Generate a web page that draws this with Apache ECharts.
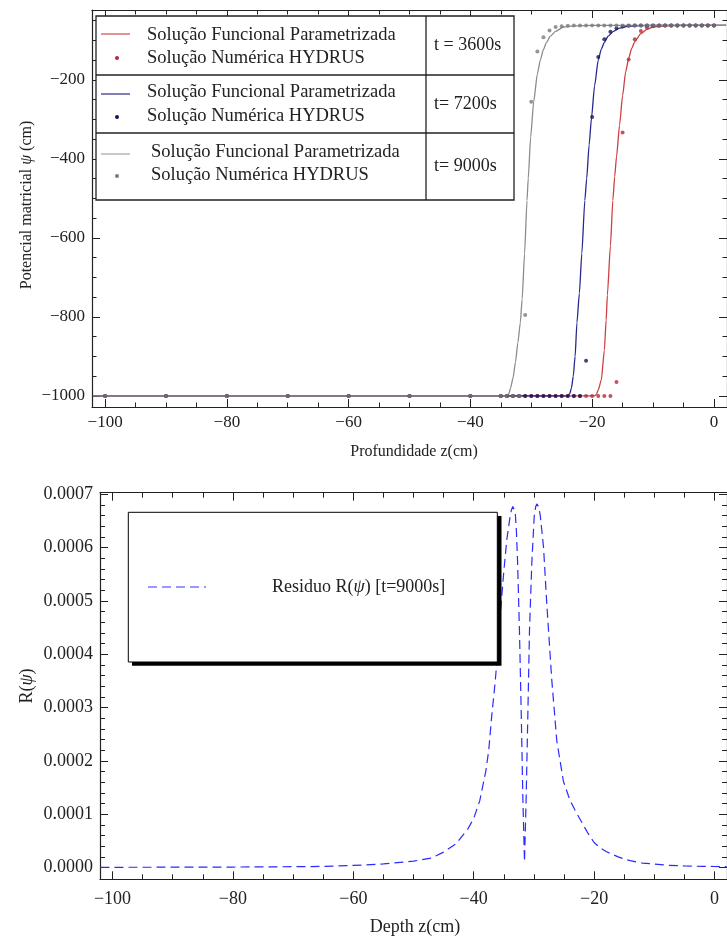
<!DOCTYPE html>
<html><head><meta charset="utf-8">
<script src="https://cdn.jsdelivr.net/npm/echarts@6/dist/echarts.min.js"></script>
<style>html,body{margin:0;padding:0;background:#fff}#c{width:727px;height:938px}</style>
</head><body><div id="c"></div>
<script>
// ---------- DATA ----------
// Top chart: fitted curves (Solução Funcional Parametrizada)
const curve3600Z   = [-102,-19.6,-19.3,-19,-18.5,-18,-17.7,-17.5,-17,-16.6,-16.3,-16,-15.5,-15,-14.5,-14,-13.5,-13,-12,-11,-10,-8,-5,0,2];
const curve3600Psi = [-1000,-1000,-996,-985,-960,-885,-808,-745,-620,-505,-445,-395,-315,-240,-180,-145,-120,-103,-83,-72,-66,-63,-62,-62,-62];
const curve7200Z   = [-102,-24,-23.7,-23.4,-23.1,-22.8,-22.5,-22.1,-21.7,-21.2,-20.9,-20.5,-20.1,-19.6,-19,-18.5,-18,-17.4,-16.5,-15.5,-14,-12,-8,0,2];
const curve7200Psi = [-1000,-1000,-995,-980,-950,-900,-815,-740,-640,-505,-450,-365,-295,-215,-150,-122,-105,-90,-77,-69,-64,-62.5,-62,-62,-62];
const curve9000Z   = [-102,-34,-33.7,-33.4,-33,-32.6,-32.2,-31.8,-31.5,-31.1,-30.7,-30.5,-30.1,-29.6,-29,-28.5,-28,-27.5,-26.9,-26,-24.7,-23,-20,0,2];
const curve9000Psi = [-1000,-1000,-995,-980,-955,-915,-865,-815,-755,-640,-505,-450,-345,-255,-185,-149,-123,-105,-90,-77,-66,-63,-62,-62,-62];
// Top chart: HYDRUS numerical nodes
const hydrusZ    = [-100,-90,-80,-70,-60,-50,-40,-35,-34,-33,-32,-31,-30,-29,-28,-27,-26,-25,-24,-23,-22,-21,-20,-19,-18,-17,-16,-15,-14,-13,-12,-11,-10,-9,-8,-7,-6,-5,-4,-3,-2,-1,0];
const hydrus3600 = [-1000,-1000,-1000,-1000,-1000,-1000,-1000,-1000,-1000,-1000,-1000,-1000,-1000,-1000,-1000,-1000,-1000,-1000,-1000,-1000,-1000,-1000,-1000,-1000,-1000,-1000,-965,-333,-148,-97,-76,-67,-64,-63,-62,-62,-62,-62,-62,-62,-62,-62,-62];
const hydrus7200 = [-1000,-1000,-1000,-1000,-1000,-1000,-1000,-1000,-1000,-1000,-1000,-1000,-1000,-1000,-1000,-1000,-1000,-1000,-1000,-1000,-1000,-911,-294,-142,-97,-78,-69,-65,-63,-62,-62,-62,-62,-62,-62,-62,-62,-62,-62,-62,-62,-62,-62];
const hydrus9000 = [-1000,-1000,-1000,-1000,-1000,-1000,-1000,-1000,-1000,-1000,-1000,-795,-255,-128,-92,-75,-66,-64,-63,-62,-62,-62,-62,-62,-62,-62,-62,-62,-62,-62,-62,-62,-62,-62,-62,-62,-62,-62,-62,-62,-62,-62,-62];
// Bottom chart: residual R(psi) at t = 9000 s
const residZ = [-102,-100,-90,-80,-70,-65,-60,-55,-50,-47,-45,-43,-41,-40,-39,-38,-37.5,-37,-36.5,-36,-35.5,-35,-34.5,-34,-33.75,-33.5,-33.3,-33.1,-32.9,-32.7,-32.4,-32.1,-31.84,-31.56,-31.28,-31.0,-30.73,-30.35,-29.95,-29.7,-29.5,-29.25,-28.96,-28.4,-27.86,-27.03,-26.2,-25.1,-24,-23,-22,-21,-20,-19,-18,-17,-16,-15,-14,-12,-10,-8,-5,-2,0,2];
const residR = [0.0000005,0.0000005,0.0000007,0.0000010,0.0000016,0.0000022,0.0000040,0.0000068,0.0000120,0.0000180,0.0000290,0.0000440,0.0000720,0.0000920,0.000125,0.000180,0.000220,0.000285,0.000340,0.000405,0.000485,0.000555,0.000615,0.000655,0.000670,0.000677,0.000676,0.000666,0.000630,0.000570,0.000445,0.000289,0.000133,0.0000109,0.000133,0.000289,0.000445,0.000570,0.000658,0.000677,0.000682,0.000677,0.000662,0.000601,0.000495,0.000352,0.000238,0.000162,0.000126,0.000104,0.000084,0.000064,0.000047,0.000037,0.000030,0.000025,0.000020,0.000016,0.000013,0.0000085,0.0000065,0.0000045,0.0000030,0.0000022,0.0000020,0.0000019];
// Tick labels
const topXTicks = [-100,-80,-60,-40,-20,0];
const topYTicks = [-1000,-800,-600,-400,-200];
const botXTicks = [-100,-80,-60,-40,-20,0];
const botYTicks = [0,0.0001,0.0002,0.0003,0.0004,0.0005,0.0006,0.0007];
const legendTimes = ['t = 3600s','t= 7200s','t= 9000s'];

// ---------- helpers ----------
const zip = (a,b) => a.map((v,i)=>[v,b[i]]);
const range = (a,b,s) => { const r=[]; for (let i=0; a+i*s <= b+1e-12; i++) r.push(+(a+i*s).toFixed(8)); return r; };
const minus = v => v === 0 ? '0' : (v < 0 ? '\u2212' + Math.abs(v) : String(v));
const SERIF = 'Liberation Serif, Times New Roman, serif';
const INK = '#222';

function axesFor(grid, min, max, majors, minors, fmt, lab, majLen, minLen, mainPos, oppPos) {
  const base = (pos, vals, len, showLine, showLab) => ({
    type:'value', gridIndex:grid, position:pos, min:min, max:max,
    axisLine:{show:showLine, onZero:false, lineStyle:{color:INK, width:1.2}},
    axisTick:{show:true, inside:true, length:len, customValues:vals, lineStyle:{color:INK, width:1}},
    axisLabel: showLab ? Object.assign({show:true, customValues:majors, formatter:fmt, fontFamily:SERIF, color:INK}, lab) : {show:false},
    splitLine:{show:false}, minorTick:{show:false}
  });
  return [
    base(mainPos, majors, majLen, true, true),
    base(mainPos, minors, minLen, false, false),
    base(oppPos, majors, majLen, true, false),
    base(oppPos, minors, minLen, false, false)
  ];
}

const xAxes = [].concat(
  axesFor(0, -102.15, 2.15, topXTicks, range(-100,0,5), minus, {fontSize:17, margin:7}, 8, 4.5, 'bottom','top'),
  axesFor(1, -102.08, 2.08, botXTicks, range(-100,0,5), minus, {fontSize:18, margin:11}, 8, 5, 'bottom','top')
);
const yAxes = [].concat(
  axesFor(0, -1028, -23, topYTicks, range(-1000,-50,50), minus, {fontSize:17, margin:7}, 8, 4.5, 'left','right'),
  axesFor(1, -0.000022, 0.000703, botYTicks, range(0,0.0007,0.00002), v => v.toFixed(4), {fontSize:18, margin:7}, 8, 5, 'left','right')
);

const lineS = (z, p, color) => ({type:'line', xAxisIndex:0, yAxisIndex:0, data:zip(z,p), symbol:'none', smooth:0.2, smoothMonotone:'x', lineStyle:{color:color, width:1.3}, z:2});
const ptS = (p, color) => ({type:'scatter', xAxisIndex:0, yAxisIndex:0, data:zip(hydrusZ,p), symbol:'circle', symbolSize:4, itemStyle:{color:color}, z:3});

// ---------- legends (graphic) ----------
const G = [];
const rt = (pre, post, size) => ({text:'{a|' + pre + '}{b|ψ}{a|' + post + '}', rich:{a:{fontFamily:SERIF, fontSize:size, fill:INK}, b:{fontFamily:SERIF, fontSize:size, fontStyle:'italic', fill:INK}}});
const T = (x,y,text,size) => G.push({type:'text', x:x, y:y, z:100, style:{text:text, fontFamily:SERIF, fontSize:size, fill:INK, align:'left', verticalAlign:'middle'}});
// top legend table
G.push({type:'rect', z:99, shape:{x:96, y:16, width:418, height:184}, style:{fill:'#fff', stroke:'#222', lineWidth:1.3}});
G.push({type:'line', z:100, shape:{x1:426, y1:16, x2:426, y2:200}, style:{stroke:'#222', lineWidth:1.3}});
G.push({type:'line', z:100, shape:{x1:96, y1:75, x2:514, y2:75}, style:{stroke:'#222', lineWidth:1.3}});
G.push({type:'line', z:100, shape:{x1:96, y1:133, x2:514, y2:133}, style:{stroke:'#222', lineWidth:1.3}});
const legRows = [
  {ly:34, t1:35, t2:58, dot:58, tx:147, lc:'#d05a5a', dc:'#b02a3a', tt:45},
  {ly:94, t1:92, t2:116, dot:117, tx:147, lc:'#3a3a8c', dc:'#14145a', tt:104},
  {ly:154, t1:152, t2:175, dot:176, tx:151, lc:'#aaaaaa', dc:'#7a7a7a', tt:166}
];
legRows.forEach((r,i) => {
  G.push({type:'line', z:100, shape:{x1:101, y1:r.ly, x2:130, y2:r.ly}, style:{stroke:r.lc, lineWidth:1.3}});
  G.push({type:'circle', z:100, shape:{cx:117, cy:r.dot, r:2}, style:{fill:r.dc}});
  T(r.tx, r.t1, 'Solução Funcional Parametrizada', 18.5);
  T(r.tx, r.t2, 'Solução Numérica HYDRUS', 18.5);
  T(434, r.tt, legendTimes[i], 18);
});
// top axis titles
G.push({type:'text', x:414, y:452, z:100, style:{text:'Profundidade z(cm)', fontFamily:SERIF, fontSize:16, fill:INK, align:'center', verticalAlign:'middle'}});
G.push({type:'text', x:27, y:205, rotation:Math.PI/2, z:100, style:Object.assign(rt('Potencial matricial ', ' (cm)', 16), {align:'center', verticalAlign:'middle'})});
// bottom legend
G.push({type:'rect', z:98, shape:{x:132, y:516, width:369.5, height:149.7}, style:{fill:'#000'}});
G.push({type:'rect', z:99, shape:{x:128.3, y:512.3, width:369, height:149.7}, style:{fill:'#fff', stroke:'#000', lineWidth:1}});
G.push({type:'line', z:100, shape:{x1:148, y1:587, x2:206, y2:587}, style:{stroke:'#3333ff', lineWidth:1.2, lineDash:[9,5]}});
G.push({type:'text', x:272, y:587, z:100, style:Object.assign(rt('Residuo R(', ') [t=9000s]', 18), {align:'left', verticalAlign:'middle'})});
// bottom axis titles
G.push({type:'text', x:415, y:927, z:100, style:{text:'Depth z(cm)', fontFamily:SERIF, fontSize:18, fill:INK, align:'center', verticalAlign:'middle'}});
G.push({type:'text', x:27, y:686, rotation:Math.PI/2, z:100, style:Object.assign(rt('R(', ')', 18), {align:'center', verticalAlign:'middle'})});

const chart = echarts.init(document.getElementById('c'), null, {renderer:'canvas'});
chart.setOption({
  animation:false,
  backgroundColor:'#fff',
  grid:[
    {left:92, top:10, width:644, height:397},
    {left:100, top:492.7, width:629, height:386.6}
  ],
  xAxis:xAxes,
  yAxis:yAxes,
  series:[
    lineS(curve3600Z, curve3600Psi, '#cc4040'),
    ptS(hydrus3600, '#b02a3a'),
    lineS(curve7200Z, curve7200Psi, '#28288c'),
    ptS(hydrus7200, '#14145a'),
    lineS(curve9000Z, curve9000Psi, '#8c8c8c'),
    ptS(hydrus9000, '#7a7a7a'),
    {type:'line', xAxisIndex:4, yAxisIndex:4, data:zip(residZ,residR), symbol:'none', smooth:false,
     lineStyle:{color:'#2b2bff', width:1.2, type:[9,5]}, z:2}
  ],
  graphic:G
});
</script></body></html>
